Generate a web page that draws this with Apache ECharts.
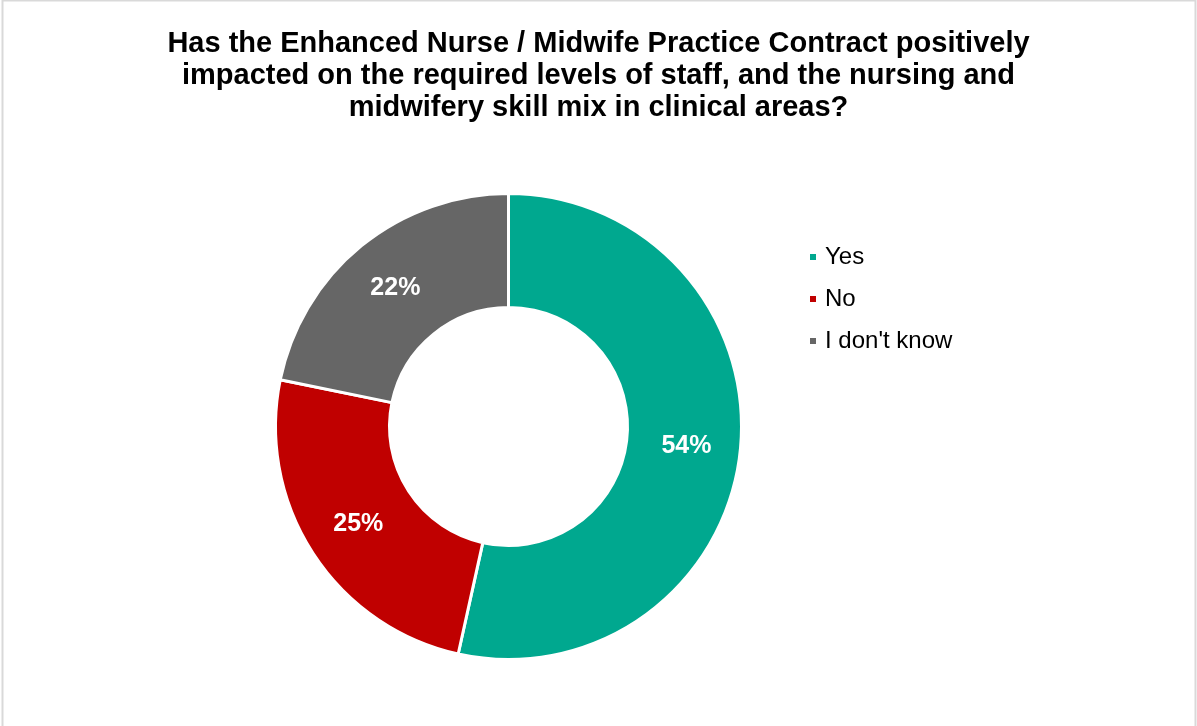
<!DOCTYPE html>
<html>
<head>
<meta charset="utf-8">
<script src="https://cdn.jsdelivr.net/npm/echarts@6/dist/echarts.min.js"></script>
<style>
  html, body { margin: 0; padding: 0; background: #ffffff; }
  #chart { width: 1197px; height: 726px; }
</style>
</head>
<body>
<div id="chart"></div>
<script>
// Survey answers and their share of responses (%)
const categories = ['Yes', 'No', "I don't know"];
const shares = [54, 25, 22];
const colors = ['#00A88F', '#C00000', '#666666'];

const titleText = 'Has the Enhanced Nurse / Midwife Practice Contract positively\nimpacted on the required levels of staff, and the nursing and\nmidwifery skill mix in clinical areas?';

const chart = echarts.init(document.getElementById('chart'), null, { renderer: 'canvas' });

chart.setOption({
  backgroundColor: '#ffffff',
  animation: false,
  title: {
    text: titleText,
    left: 'center',
    top: 23,
    textStyle: {
      fontFamily: 'Liberation Sans, Arial, sans-serif',
      fontWeight: 'bold',
      fontSize: 29,
      lineHeight: 32,
      color: '#000000'
    }
  },
  legend: {
    orient: 'vertical',
    left: 803,
    top: 240,
    icon: 'rect',
    itemWidth: 8,
    itemHeight: 8,
    itemGap: 18,
    textStyle: {
      fontFamily: 'Liberation Sans, Arial, sans-serif',
      fontSize: 24,
      color: '#000000',
      padding: [0, 0, 0, 3]
    },
    data: categories
  },
  graphic: [{
    type: 'rect',
    silent: true,
    shape: { x: 2.5, y: 0.5, width: 1193, height: 800 },
    style: { fill: 'none', stroke: '#d9d9d9', lineWidth: 2 }
  }],
  series: [{
    type: 'pie',
    center: [508.5, 426.5],
    radius: [119, 233],
    startAngle: 90,
    clockwise: true,
    avoidLabelOverlap: false,
    itemStyle: { borderColor: '#ffffff', borderWidth: 3 },
    label: {
      show: true,
      position: 'inside',
      formatter: p => p.value + '%',
      fontFamily: 'Liberation Sans, Arial, sans-serif',
      fontWeight: 'bold',
      fontSize: 25,
      color: '#ffffff'
    },
    labelLine: { show: false },
    emphasis: { disabled: true },
    data: categories.map((name, i) => ({
      name: name,
      value: shares[i],
      itemStyle: { color: colors[i] }
    }))
  }]
});
</script>
</body>
</html>
